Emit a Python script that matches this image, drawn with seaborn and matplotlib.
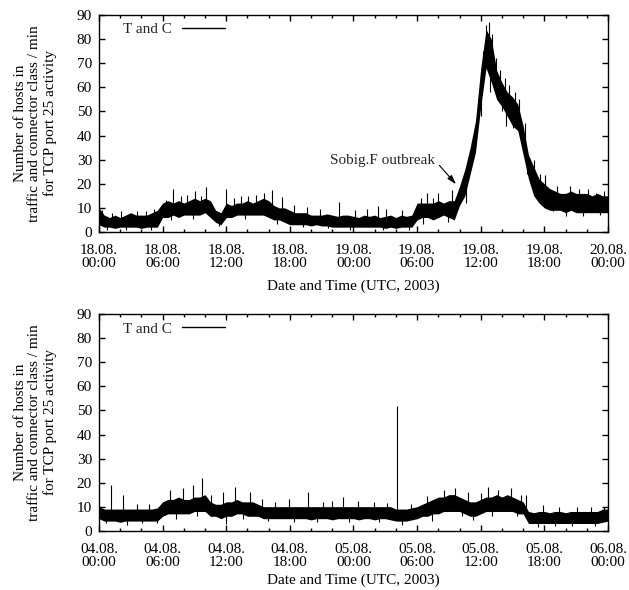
import numpy as np
import pandas as pd
import matplotlib
matplotlib.use("Agg")
import matplotlib.pyplot as plt
from matplotlib.lines import Line2D
from matplotlib.ticker import MultipleLocator
import seaborn as sns

# ---------------- data (30-min resolution) ----------------
hours = np.arange(0, 48.5, 0.5)

top_low = [3, 2, 2, 1.5, 2, 2, 2, 2, 1.5, 2, 2, 2,
           6, 6, 7, 6, 7, 7, 7, 7, 8, 6, 4, 3,
           6, 6, 7, 7, 7, 7, 7, 7, 6, 5, 5, 4,
           3, 3, 3, 3, 2.5, 3, 2.5, 2.5, 2, 2, 2, 2,
           2, 2, 2, 2, 2, 2, 1.5, 2, 1.5, 2, 2, 2,
           5, 6, 6, 5, 6, 7, 6, 5,
           11, 15, 24, 33, 52, 68, 62, 55, 52, 48, 44, 42,
           32, 22, 15, 12, 10, 9, 9, 9, 8, 9, 8, 8, 8, 8, 8, 8, 8]
top_high = [10, 7, 6, 7, 6, 7, 8, 7, 7, 7, 8, 9,
            12, 13, 12, 13, 12, 13, 14, 13, 14, 13, 9, 8,
            12, 11, 12, 12, 13, 12, 13, 14, 13, 11, 10, 10,
            9, 8, 8, 8, 7, 7, 7, 7.5, 7, 6.5, 7, 7,
            6.5, 6, 7, 6.5, 7, 6, 6.5, 7, 6, 7, 6.5, 7,
            12, 12, 12, 12, 13, 12, 13, 13,
            19, 26, 35, 46, 68, 84, 80, 67, 62, 58, 56, 53,
            44, 32, 27, 22, 20, 18, 17, 16, 16, 17, 16, 16, 16, 15, 16, 15, 15]

bot_low = [5, 4, 4, 4, 3.5, 4, 4, 4, 4, 4, 4, 4,
           6, 7, 7, 7, 7, 7, 8, 8, 8, 6, 6, 5,
           6, 6, 7, 7, 6, 6, 6, 5, 5, 5, 5, 5,
           5, 5, 5, 5, 4.5, 5, 5, 5, 4.5, 5, 5, 5,
           5, 4.5, 5, 5, 4.5, 5, 5, 4.5, 4, 4, 4, 4.5,
           5, 6, 6, 7, 7, 8, 8, 8, 8, 7, 6, 6,
           7, 8, 8, 8, 8, 8, 8, 7, 7, 3, 3, 3,
           3, 3, 3, 3, 3, 3, 3, 3, 3, 3, 3, 3.5, 4]
bot_high = [10, 9, 9, 9, 9, 9, 9, 9, 9, 9, 9, 9.5,
            12, 13, 13, 14, 13, 13, 14, 14, 15, 12, 11, 11,
            12, 12, 13, 12, 12, 12, 11, 10, 10, 10, 10, 10,
            10, 10, 10, 10, 10, 10, 10, 10, 10, 10, 10, 10,
            10, 10, 10, 10, 10, 10, 10, 10, 9, 9, 9, 9.5,
            10, 11, 12, 13, 14, 14, 15, 15, 14, 13, 12, 12,
            13, 14, 14, 15, 14, 15, 14, 13, 12, 8, 7.5, 8,
            8, 7.5, 8, 8, 7.5, 8, 8, 8, 8, 8, 8, 9, 9]

# upward spikes (hour, value) and downward dips
top_spike_h = [0.3, 1.2, 2.1, 2.9, 3.6, 4.4, 5.2, 6.3, 7.0, 7.7, 8.3, 9.05, 9.6, 10.1,
               12.0, 12.7, 13.4, 14.05, 14.8, 15.6, 16.3, 17.3, 18.4, 19.6, 20.8,
               22.6, 24.1, 25.3, 26.3, 27.1, 28.6, 30.4, 30.9, 31.5, 32.0, 33.3,
               34.3, 35.2, 35.7, 36.2, 36.5, 36.8, 37.1, 37.4, 37.8, 38.3, 38.7, 39.2,
               39.6, 40.2, 41.0, 41.6, 42.06, 43.2, 44.4, 45.3, 46.1, 46.9, 47.6]
top_spike_v = [9, 8, 8.8, 7.6, 8.5, 8.8, 9.5, 13.3, 17.8, 15, 15.5, 16.8, 15, 18.8,
               17.8, 14, 15, 15, 15.5, 16, 17.4, 14.6, 11, 10.5, 9.5,
               12.6, 9, 9.5, 10.6, 9.7, 9, 14, 16, 14, 16, 17.4,
               22, 38, 50, 75, 86, 87, 82, 72, 67, 64, 61, 58,
               55, 45, 30, 24, 23.6, 19, 19, 18, 18, 16, 17]
top_dip_h = [0.8, 2.5, 4.9, 6.8, 8.9, 11.3, 13.8, 16.8, 19.2, 21.6, 23.7, 26.8,
             29.2, 30.6, 32.9, 34.6, 36.0, 36.9, 38.0, 38.4, 39.0, 40.4, 41.2,
             42.8, 44.0, 45.6, 47.2]
top_dip_v = [1, 0.8, 1, 5, 5.5, 2.5, 5.5, 3.5, 2, 1.5, 1, 0.8,
             1, 3.5, 4.3, 12, 48, 58, 50, 44, 43, 24, 14,
             8.5, 6.5, 6.5, 7]

bot_spike_h = [1.1, 2.3, 3.6, 4.7, 6.7, 7.9, 8.9, 9.7, 10.6, 11.7, 12.8, 14.2, 15.4,
               16.6, 17.9, 19.7, 21.1, 22.0, 23.0, 24.4, 25.9, 27.2, 28.07, 29.4,
               30.9, 32.5, 33.6, 34.8, 36.0, 36.7, 37.6, 38.9, 39.8, 40.3, 41.9,
               43.4, 45.1, 46.4, 47.6]
bot_spike_v = [19, 15, 11, 11, 16.8, 17.9, 19, 22, 15, 16, 18.3, 16.2, 13,
               12, 13, 16.2, 12, 12.5, 14, 12.4, 12, 11.5, 52, 11,
               14.3, 17, 17.9, 16, 15.5, 18, 17, 17.6, 15, 14.8, 10.6,
               10, 10, 10, 9.7]
bot_dip_h = [0.7, 2.6, 4.1, 5.5, 7.3, 9.2, 12.0, 13.6, 15.9, 18.4, 20.6, 23.6,
             26.4, 28.6, 31.4, 34.2, 35.3, 37.1, 39.4, 41.4, 43.0, 44.6, 46.8]
bot_dip_v = [3, 2.3, 3, 3, 5, 6, 2.8, 5, 4, 3.5, 3.5, 3.5,
             3.5, 2.5, 4, 6, 4.5, 6, 6, 1.5, 2, 2, 2]

tick_hours = [0, 6, 12, 18, 24, 30, 36, 42, 48]
top_tick_labels = ["18.08.\n00:00", "18.08.\n06:00", "18.08.\n12:00", "18.08.\n18:00",
                   "19.08.\n00:00", "19.08.\n06:00", "19.08.\n12:00", "19.08.\n18:00",
                   "20.08.\n00:00"]
bot_tick_labels = ["04.08.\n00:00", "04.08.\n06:00", "04.08.\n12:00", "04.08.\n18:00",
                   "05.08.\n00:00", "05.08.\n06:00", "05.08.\n12:00", "05.08.\n18:00",
                   "06.08.\n00:00"]

series_label = "T and C"
ylabel = "Number of hosts in\ntraffic and connector class / min\nfor TCP port 25 activity"
xlabel = "Date and Time (UTC, 2003)"

# ---------------- style ----------------
sns.set_theme(style="ticks")
plt.rcParams["font.family"] = ["Liberation Serif", "DejaVu Serif"]
plt.rcParams["font.size"] = 11
plt.rcParams["axes.linewidth"] = 1.0

fig = plt.figure(figsize=(6.29, 5.9), dpi=100)
ax_top = fig.add_axes([0.1574, 0.6068, 0.8092, 0.3678])
ax_bot = fig.add_axes([0.1574, 0.1005, 0.8092, 0.3668])


def draw_panel(ax, low, high, sp_h, sp_v, dip_h, dip_v, labels, xlabelpad):
    low = np.asarray(low, float)
    high = np.asarray(high, float)
    df = pd.DataFrame({"hour": np.concatenate([hours, hours]),
                       "hosts": np.concatenate([low, high])})
    sns.lineplot(data=df, x="hour", y="hosts", estimator="mean",
                 errorbar=("pi", 100), color="black", lw=0.6,
                 err_kws={"alpha": 1.0, "linewidth": 0},
                 ax=ax, legend=False)
    mid = (low + high) / 2
    ax.vlines(sp_h, np.interp(sp_h, hours, mid), sp_v, color="black", lw=0.8)
    ax.vlines(dip_h, dip_v, np.interp(dip_h, hours, mid), color="black", lw=0.8)

    ax.set_xlim(0, 48)
    ax.set_ylim(0, 90)
    ax.set_xticks(tick_hours)
    ax.set_xticklabels(labels, linespacing=1.0)
    ax.xaxis.set_minor_locator(MultipleLocator(2))
    ax.set_yticks(range(0, 91, 10))
    ax.tick_params(which="both", direction="in", top=True, right=True,
                   color="black", width=1.0, labelsize=11, labelcolor="black")
    ax.tick_params(which="major", length=4.5)
    ax.tick_params(which="minor", length=2.5)
    ax.tick_params(axis="x", which="major", pad=8.5)
    ax.tick_params(axis="y", which="major", pad=5)
    for s in ax.spines.values():
        s.set_color("black")
        s.set_linewidth(1.0)
    ax.set_xlabel(xlabel, fontsize=11, color="black", labelpad=xlabelpad)
    ax.set_ylabel(ylabel, fontsize=11, color="black", linespacing=1.15)
    ax.yaxis.set_label_coords(-0.083, 0.5)
    ax.legend(handles=[Line2D([], [], color="black", lw=1.0)], labels=[series_label],
              loc="upper left", bbox_to_anchor=(0.047, 0.965), frameon=False,
              markerfirst=False, handlelength=2.8, handletextpad=0.65,
              borderaxespad=0, borderpad=0, fontsize=11)


draw_panel(ax_top, top_low, top_high, top_spike_h, top_spike_v, top_dip_h, top_dip_v,
           top_tick_labels, 7)
draw_panel(ax_bot, bot_low, bot_high, bot_spike_h, bot_spike_v, bot_dip_h, bot_dip_v,
           bot_tick_labels, 3.5)

ax_top.annotate("Sobig.F outbreak", xy=(33.67, 19.8), xytext=(31.7, 29.6),
                ha="right", va="center", fontsize=11,
                arrowprops=dict(arrowstyle="-|>,head_length=0.5,head_width=0.15",
                                color="black", lw=0.8, relpos=(1.0, 0.5),
                                shrinkA=1, shrinkB=0))

fig.savefig("out.png", dpi=100)
